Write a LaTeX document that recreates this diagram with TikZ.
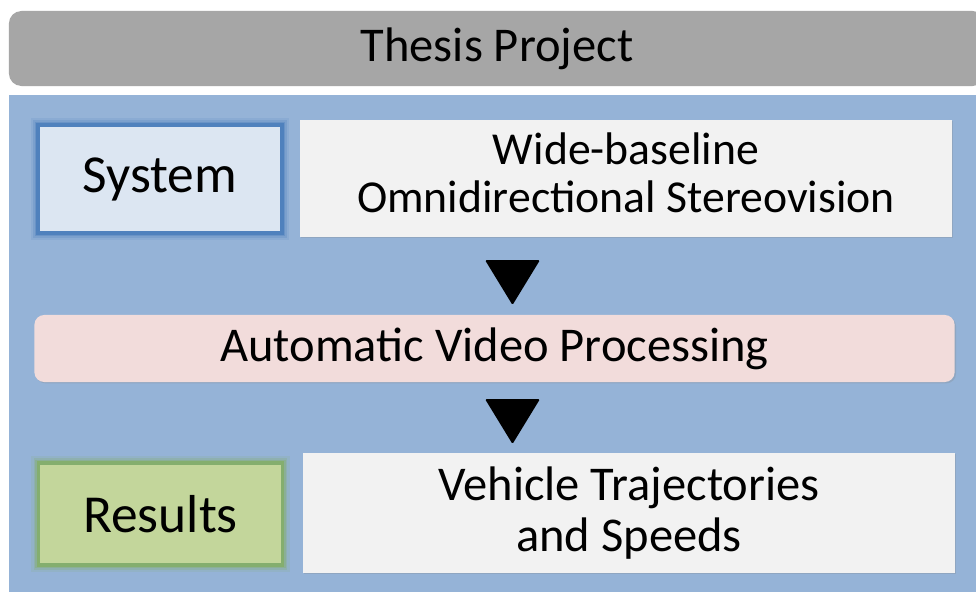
\documentclass[tikz,border=0pt]{standalone}
\usepackage{fontspec}
\setmainfont{Carlito}
\usetikzlibrary{shadows}
\definecolor{titlegray}{HTML}{A6A6A6}
\definecolor{panelblue}{HTML}{95B3D7}
\definecolor{sysfill}{HTML}{DCE6F2}
\definecolor{sysedge}{HTML}{4F81BD}
\definecolor{boxwhite}{HTML}{F2F2F2}
\definecolor{procpink}{HTML}{F2DCDB}
\definecolor{resfill}{HTML}{C3D69B}
\definecolor{resedge}{HTML}{84AE6E}
\begin{document}
\begin{tikzpicture}[x=0.025cm, y=-0.025cm,
		txt/.style={font=\fontsize{34.5}{36}\selectfont, align=center, inner sep=0pt},
		big/.style={font=\fontsize{38}{40}\selectfont},
		plain/.style={txt, fill=boxwhite, drop shadow={opacity=0.25, shadow xshift=1pt, shadow yshift=-1pt}},
		glow/.style={txt, big, line width=2.5pt, draw=#1,
			preaction={draw=#1, line width=10pt, opacity=0.15},
			preaction={draw=#1, line width=7pt, opacity=0.25},
			preaction={draw=#1, line width=4.5pt, opacity=0.4}},
		tri/.style={fill=black, rounded corners=1pt}]
	\clip (0,0) rectangle (976,592);
	\fill[white] (0,0) rectangle (976,592);
		% header and background panel
		\node[txt, fill=titlegray, rounded corners=9pt, minimum width=24.4cm, minimum height=1.875cm](title) at (497,48.5) {Thesis Project};
		\node[fill=panelblue, minimum width=24.5cm, minimum height=12.6cm, inner sep=0pt](panel) at (499.5,347.5) {};
		% first row
		\node[glow=sysedge, fill=sysfill, minimum width=6.1cm, minimum height=2.7cm](system) at (160,179) {System};
		\node[plain, font=\fontsize{32.5}{34.5}\selectfont, minimum width=16.3cm, minimum height=2.925cm, text depth=8pt](stereo) at (626,178.5) {Wide-baseline\\Omnidirectional Stereovision};
		% processing
		\node[txt, fill=procpink, rounded corners=7pt, minimum width=23cm, minimum height=1.675cm, drop shadow={opacity=0.25, shadow xshift=1pt, shadow yshift=-1pt}](proc) at (494.5,348.5) {Automatic Video Processing};
		% last row
		\node[glow=resedge, fill=resfill, minimum width=6.1cm, minimum height=2.55cm](results) at (160.5,514) {Results};
		\node[plain, minimum width=16.3cm, minimum height=3cm](traj) at (629,513) {Vehicle Trajectories\\and Speeds};
		% arrows
		\fill[tri] (485,260) -- (540,260) -- (512.5,305) -- cycle;
		\fill[tri] (485,399) -- (540,399) -- (512.5,444) -- cycle;
\end{tikzpicture}
\end{document}
